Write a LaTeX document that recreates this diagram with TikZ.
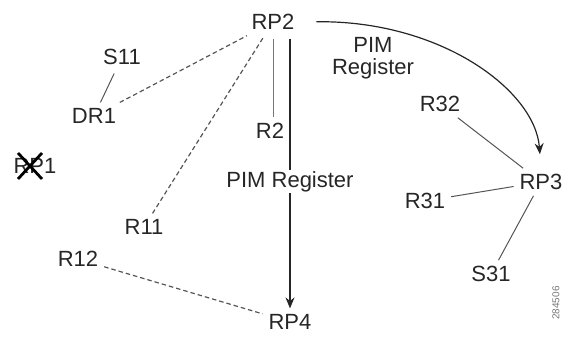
\documentclass[tikz,border=0pt]{standalone}
\usepackage{fontspec}
\setmainfont{Liberation Sans}
\usetikzlibrary{arrows.meta}
\definecolor{txt}{HTML}{262626}
\definecolor{ln}{HTML}{555555}
\definecolor{lt}{HTML}{777777}
\tikzset{
  lbl/.style={font=\fontsize{22}{24}\selectfont, text=txt, inner sep=3pt, outer sep=3pt},
  solidln/.style={draw=ln, line width=1pt},
  dashln/.style={draw=ln, line width=1.2pt, dash pattern=on 4.5pt off 3pt},
  arr/.style={draw=txt, line width=1.2pt, -{Stealth[length=11pt,width=9pt]}},
}
\begin{document}
\begin{tikzpicture}[x=1pt,y=-1pt]
\useasboundingbox (0,0) rectangle (571,339);
% nodes
\node[lbl] (RP2) at (273,22) {RP2};
\node[lbl] (S11) at (122,57) {S11};
\node[lbl] (DR1) at (94,116) {DR1};
\node[lbl] (R2) at (270,131) {R2};
\node[lbl] (R11) at (144,227) {R11};
\node[lbl] (R12) at (78,259) {R12};
\node[lbl] (RP4) at (290,322) {RP4};
\node[lbl] (RP1) at (35,166) {RP1};
\node[lbl] (RP3) at (541,182) {RP3};
\node[lbl] (R32) at (440,104) {R32};
\node[lbl] (R31) at (425,201) {R31};
\node[lbl] (S31) at (491,274) {S31};
\node[font=\fontsize{10}{11}\selectfont, text=lt, rotate=90, inner sep=0pt] (num) at (556,303) {284506};
% cross over RP1
\draw[draw=black, line width=2.8pt] (RP1.center) ++(-17,-13) coordinate (xa) -- ++(24,26) coordinate (xb);
\draw[draw=black, line width=2.8pt] (RP1.center) ++(7,-13) coordinate (xc) -- ++(-24,26) coordinate (xd);
% connectors
\draw[solidln, shorten <=3pt] (S11) -- (DR1);
\draw[dashln] (DR1) -- (RP2);
\draw[dashln, shorten <=3pt] (RP2) -- (R11);
\draw[dashln] (R12) -- (RP4);
\draw[solidln, draw=lt, shorten <=3pt] (RP2.south) -- (RP2.south |- R2.north);
\draw[arr, shorten <=3pt] (RP4.north |- RP2.south) -- node[lbl, pos=0.535, fill=white, inner sep=1pt, outer sep=0pt] (pimreg) {PIM Register} (RP4.north);
\draw[arr, shorten <=16pt, shorten >=14pt] (RP2.east) .. controls (440,20) and (535,90) .. (RP3.north);
\node[lbl, align=center, inner sep=0pt] (pimreg2) at (373,58) {PIM\\[-2pt]Register};
\draw[solidln] (R32) -- (RP3);
\draw[solidln] (R31) -- (RP3);
\draw[solidln] (S31) -- (RP3);
\end{tikzpicture}
\end{document}
